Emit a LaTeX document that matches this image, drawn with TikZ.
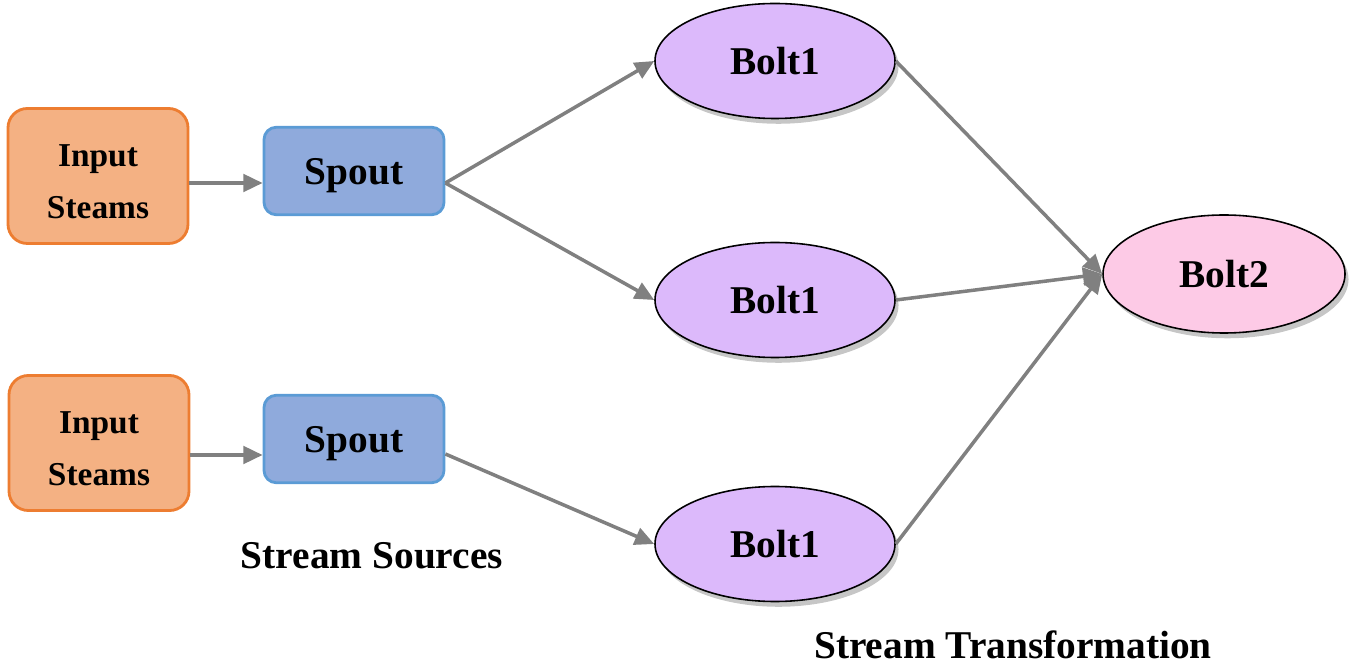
\documentclass[tikz,border=0pt]{standalone}
\usepackage{fontspec}
\setmainfont{Liberation Serif}
\usepackage{tikz}
\usetikzlibrary{positioning, arrows.meta, shapes, shadows}
\definecolor{inputfill}{HTML}{F4B183}
\definecolor{inputdraw}{HTML}{ED7D31}
\definecolor{spoutfill}{HTML}{8FAADC}
\definecolor{spoutdraw}{HTML}{5B9BD5}
\definecolor{boltfill}{HTML}{DCB9FB}
\definecolor{lastfill}{HTML}{FDCAE6}
\definecolor{flowgray}{HTML}{808080}
\newcommand{\twolines}[2]{\rule{0pt}{18.5pt}#1\\#2}
\tikzset{
      input box/.style={
		fill=inputfill,
		draw=inputdraw,
		line width=1.6pt,
		rounded corners=11pt,
		minimum width=3.6cm,
		minimum height=2.7cm,
		align=center,
		font=\bfseries\fontsize{19}{29.5}\selectfont,
	  },
      spout box/.style={
		fill=spoutfill,
		draw=spoutdraw,
		line width=1.6pt,
		rounded corners=7pt,
		minimum width=3.6cm,
		minimum height=1.75cm,
		text depth=0pt,
		font=\bfseries\fontsize{22.4}{26}\selectfont,
	  },
      bolt/.style={
		ellipse,
		fill=#1,
		draw=black,
		line width=0.9pt,
		minimum width=4.8cm,
		minimum height=2.3cm,
		drop shadow={shadow xshift=2pt, shadow yshift=-3pt, opacity=0.45, fill=gray},
		font=\bfseries\fontsize{22.4}{26}\selectfont,
	  },
      flow/.style={
		draw=flowgray,
		line width=2pt,
		-{Triangle[length=11pt,width=10pt]},
	  },
  		caption/.style={
    	inner sep=0pt,
		font=\bfseries\fontsize{22.4}{26}\selectfont,
      }
  	}
\begin{document}
\begin{tikzpicture}
    \useasboundingbox (0,0) rectangle (27,-13.32);
    % stream sources
    \node [input box] (in1) at (1.96,-3.52) {\twolines{Input}{Steams}};
    \node [input box] (in2) at (1.98,-8.86) {\twolines{Input}{Steams}};
    \node [spout box] (spout1) at (7.08,-3.42) {Spout};
    \node [spout box] (spout2) at (7.08,-8.78) {Spout};
    % bolts
    \node [bolt=boltfill] (bolt1a) at (15.5,-1.22) {Bolt1};
    \node [bolt=boltfill] (bolt1b) at (15.5,-6.0) {Bolt1};
    \node [bolt=boltfill] (bolt1c) at (15.5,-10.88) {Bolt1};
    \node [bolt=lastfill, minimum width=4.84cm, minimum height=2.36cm] (bolt2) at (24.48,-5.48) {Bolt2};
    % captions
    \node [caption] (srccap) at (7.44,-11.12) {Stream Sources};
    \node [caption] (trfcap) at (20.26,-12.9) {Stream Transformation};
    % connections
    \draw [flow] ([yshift=-0.14cm]in1.east) -- ([yshift=-0.14cm]in1.east -| spout1.west);
    \draw [flow] ([yshift=-0.24cm]in2.east) -- ([yshift=-0.24cm]in2.east -| spout2.west);
    \draw [flow] ([yshift=-0.24cm]spout1.east) -- (bolt1a.west);
    \draw [flow] ([yshift=-0.24cm]spout1.east) -- (bolt1b.west);
    \draw [flow] ([yshift=-0.3cm]spout2.east) -- (bolt1c.west);
    \draw [flow] (bolt1a.east) -- (bolt2.west);
    \draw [flow] (bolt1b.east) -- (bolt2.west);
    \draw [flow] (bolt1c.east) -- (bolt2.west);
  \end{tikzpicture}
\end{document}
